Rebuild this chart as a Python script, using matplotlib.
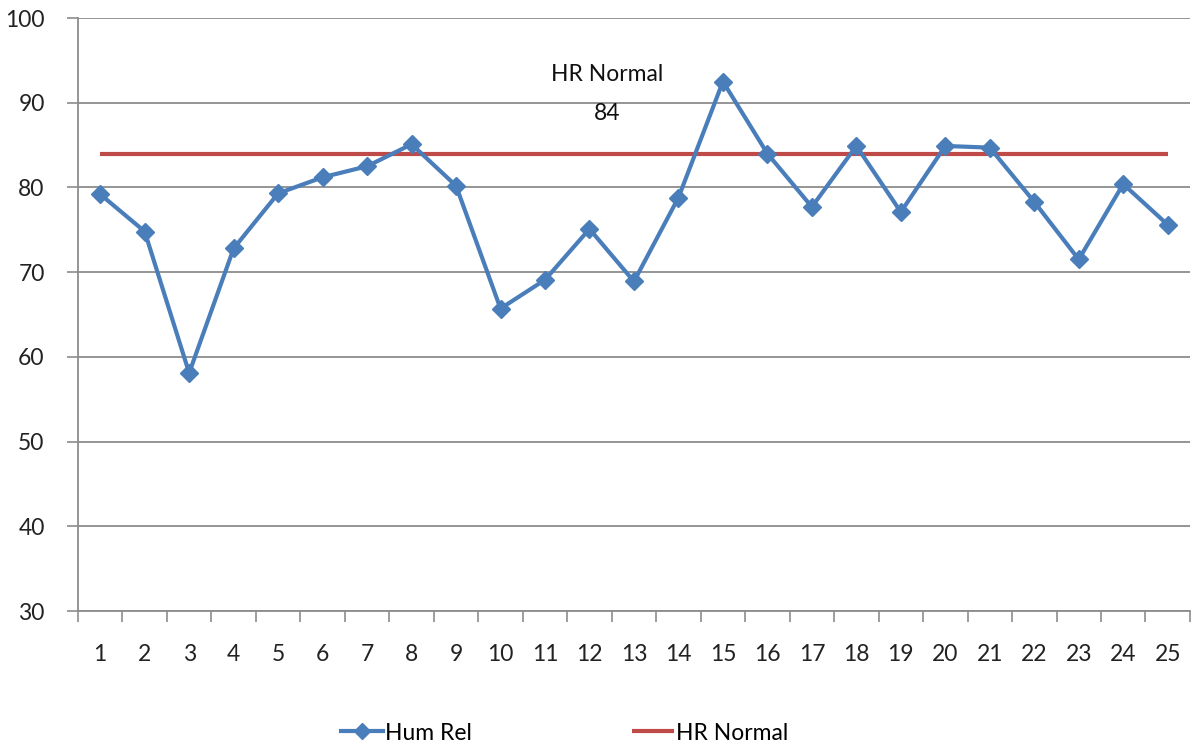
import matplotlib
matplotlib.use("Agg")
import matplotlib.pyplot as plt
from matplotlib.ticker import FixedLocator, NullFormatter

plt.rcParams['font.family'] = ['Lato', 'DejaVu Sans']

days = list(range(1, 26))
hum_rel = [79.2, 74.8, 58.1, 72.8, 79.3, 81.2, 82.5, 85.1, 80.2, 65.7,
           69.1, 75.1, 68.9, 78.8, 92.5, 84.0, 77.7, 84.9, 77.1, 84.9,
           84.7, 78.3, 71.5, 80.4, 75.6]
hr_normal_value = 84
hr_normal = [hr_normal_value] * len(days)
y_ticks = [30, 40, 50, 60, 70, 80, 90, 100]

BLUE = '#4a7ebb'
RED = '#be4b48'
GRID = '#8c8c8c'

fig = plt.figure(figsize=(11.94, 7.51), dpi=100)
ax = fig.add_axes([0.0653, 0.1864, 0.9313, 0.7896])

ax.plot(days, hr_normal, color=RED, lw=3.0, solid_capstyle='butt',
        label='HR Normal', zorder=2)
ax.plot(days, hum_rel, color=BLUE, lw=3.0, marker='D', markersize=9,
        markerfacecolor=BLUE, markeredgecolor=BLUE, label='Hum Rel', zorder=3)

ax.set_xlim(0.5, 25.5)
ax.set_ylim(30, 100)

ax.set_yticks(y_ticks)
ax.yaxis.grid(True, color=GRID, lw=1.3)
ax.set_axisbelow(True)

ax.set_xticks(days)
ax.set_xticklabels([str(d) for d in days])
ax.xaxis.set_minor_locator(FixedLocator([d - 0.5 for d in days] + [25.5]))
ax.xaxis.set_minor_formatter(NullFormatter())
ax.tick_params(axis='x', which='major', length=0, pad=24, labelsize=16.5,
               labelcolor='#222222')
ax.tick_params(axis='x', which='minor', length=8, width=1.2, color=GRID,
               direction='out')
ax.tick_params(axis='y', length=8, width=1.2, color=GRID, pad=16,
               labelsize=16.5, labelcolor='#222222')

for side in ('top', 'right'):
    ax.spines[side].set_visible(False)
for side in ('left', 'bottom'):
    ax.spines[side].set_color(GRID)
    ax.spines[side].set_linewidth(1.3)

ax.text(12.4, 93.3, 'HR Normal', ha='center', va='center', fontsize=16.5,
        color='#111111')
ax.text(12.4, 88.7, str(hr_normal_value), ha='center', va='center',
        fontsize=16.5, color='#111111')

handles, labels = ax.get_legend_handles_labels()
order = [1, 0]
fig.legend([handles[i] for i in order], [labels[i] for i in order],
           loc='center', bbox_to_anchor=(0.473, 1 - 733 / 751), ncol=2,
           frameon=False, fontsize=16.5, handlelength=1.8, handletextpad=0.1,
           columnspacing=7.0, markerscale=0.9)

fig.savefig('out.png', dpi=100)
